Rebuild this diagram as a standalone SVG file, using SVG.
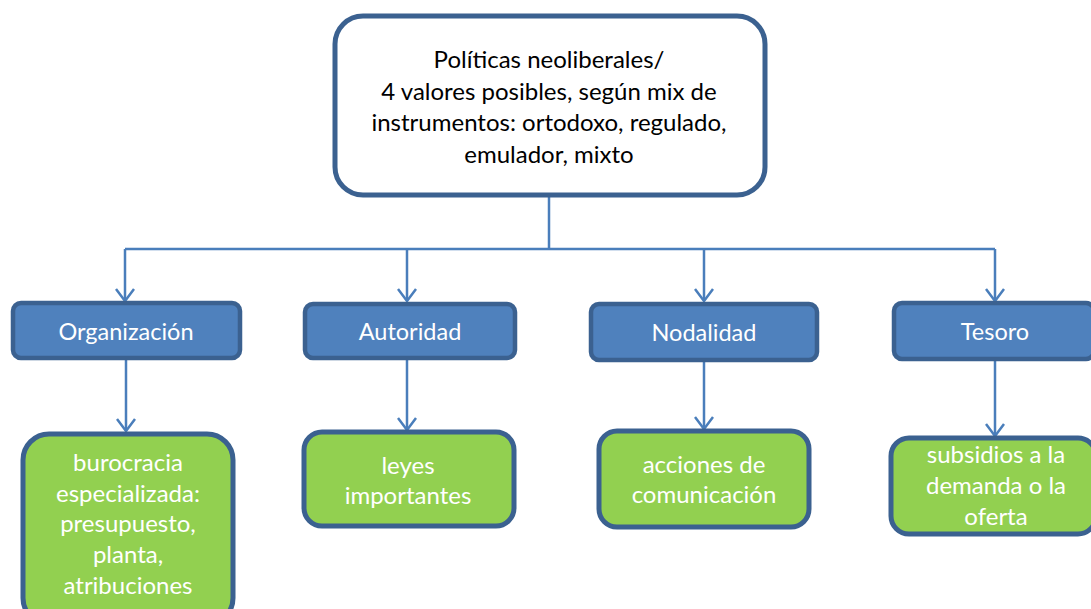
<svg xmlns="http://www.w3.org/2000/svg" width="1091" height="609" viewBox="0 0 1091 609">
<style>
.top{fill:#ffffff;stroke:#3B6190;stroke-width:5}
.cat{fill:#4F81BD;stroke:#3B6190;stroke-width:4.5}
.leaf{fill:#92D050;stroke:#3B6190;stroke-width:5}
.conn{fill:none;stroke:#4A7EBB;stroke-width:2.5}
text{font-family:Lato,"Open Sans","Liberation Sans",sans-serif;text-anchor:middle}
.tt{font-size:24px;fill:#000000}
.ct{font-size:23.5px;fill:#ffffff}
.lt{font-size:24px;fill:#ffffff}
</style>
<defs>
<marker id="arr" viewBox="0 0 20 20" refX="18" refY="10" markerWidth="20" markerHeight="20" markerUnits="userSpaceOnUse" orient="auto">
<path d="M6,1 L18,10 L6,19" fill="none" stroke="#4A7EBB" stroke-width="2.5"/>
</marker>
</defs>
<rect width="1091" height="609" fill="#ffffff"/>
<g id="connectors">
<path class="conn" d="M549,195 V249"/>
<path class="conn" d="M125,249 H995"/>
<path class="conn" d="M125,249 V301" marker-end="url(#arr)"/>
<path class="conn" d="M407,249 V301" marker-end="url(#arr)"/>
<path class="conn" d="M704,249 V301" marker-end="url(#arr)"/>
<path class="conn" d="M995,249 V301" marker-end="url(#arr)"/>
<path class="conn" d="M126,359 V431" marker-end="url(#arr)"/>
<path class="conn" d="M407,359 V430" marker-end="url(#arr)"/>
<path class="conn" d="M704,360 V429" marker-end="url(#arr)"/>
<path class="conn" d="M995,359 V436" marker-end="url(#arr)"/>
</g>
<g id="root">
<rect class="top" x="335" y="16" width="430" height="179" rx="28"/>
<text class="tt" x="549" y="68">Políticas neoliberales/</text>
<text class="tt" x="549" y="100">4 valores posibles, según mix de</text>
<text class="tt" x="549" y="131">instrumentos: ortodoxo, regulado,</text>
<text class="tt" x="549" y="163">emulador, mixto</text>
</g>
<g id="organizacion">
<rect class="cat" x="13" y="303" width="227" height="55" rx="8"/>
<text class="ct" x="126" y="340">Organización</text>
</g>
<g id="autoridad">
<rect class="cat" x="305" y="304" width="210" height="54" rx="8"/>
<text class="ct" x="410" y="340">Autoridad</text>
</g>
<g id="nodalidad">
<rect class="cat" x="591" y="304" width="226" height="56" rx="8"/>
<text class="ct" x="704" y="341">Nodalidad</text>
</g>
<g id="tesoro">
<rect class="cat" x="894" y="303" width="200" height="56" rx="8"/>
<text class="ct" x="995" y="340">Tesoro</text>
</g>
<g id="burocracia">
<rect class="leaf" x="23" y="434" width="210" height="190" rx="26"/>
<text class="lt" x="128" y="471">burocracia</text>
<text class="lt" x="128" y="502">especializada:</text>
<text class="lt" x="128" y="532">presupuesto,</text>
<text class="lt" x="128" y="563">planta,</text>
<text class="lt" x="128" y="594">atribuciones</text>
</g>
<g id="leyes">
<rect class="leaf" x="304" y="432" width="210" height="94" rx="18"/>
<text class="lt" x="408" y="474">leyes</text>
<text class="lt" x="408" y="504">importantes</text>
</g>
<g id="acciones">
<rect class="leaf" x="599" y="431" width="210" height="96" rx="18"/>
<text class="lt" x="704" y="473">acciones de</text>
<text class="lt" x="704" y="503">comunicación</text>
</g>
<g id="subsidios">
<rect class="leaf" x="891" y="438" width="205" height="96" rx="18"/>
<text class="lt" x="996" y="463">subsidios a la</text>
<text class="lt" x="996" y="494">demanda o la</text>
<text class="lt" x="996" y="525">oferta</text>
</g>
</svg>
